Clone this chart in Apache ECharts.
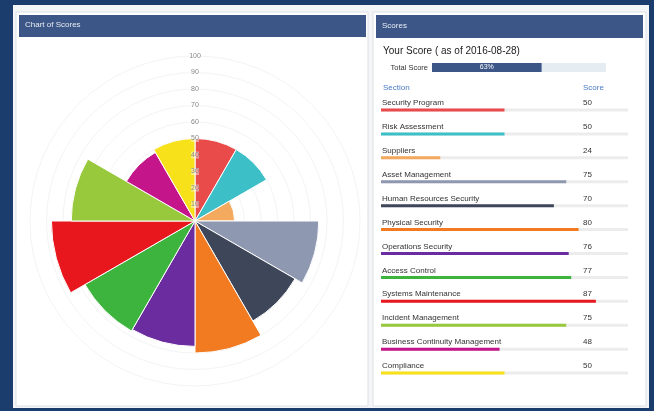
<!DOCTYPE html>
<html>
<head>
<meta charset="utf-8">
<title>Scores</title>
<script src="https://cdn.jsdelivr.net/npm/echarts@6/dist/echarts.min.js"></script>
<style>
  html, body { margin: 0; padding: 0; background: #1b3d6d; }
  #chart { width: 654px; height: 411px; }
</style>
</head>
<body>
<div id="chart"></div>
<script>
// data
var sections = ['Security Program', 'Risk Assessment', 'Suppliers', 'Asset Management',
  'Human Resources Security', 'Physical Security', 'Operations Security', 'Access Control',
  'Systems Maintenance', 'Incident Management', 'Business Continuity Management', 'Compliance']
var scores = [50, 50, 24, 75, 70, 80, 76, 77, 87, 75, 48, 50]
var colors = ['#e94b4b', '#3cbfc6', '#f4aa5e', '#8e98b0', '#3e4659', '#f27b21',
  '#6b2c9f', '#3db43d', '#e8171d', '#98c93c', '#c4168a', '#f7e11a']
var radiusMax = 100
var radiusStep = 10
var totalScore = 63
var asOfDate = '2016-08-28'

var headerColor = '#3b5687'
var font = 'Liberation Sans, Arial, sans-serif'

var chart = echarts.init(document.getElementById('chart'))

// hidden angle axis shared by both polar layers
function angleAxis(index) {
  return {
    polarIndex: index,
    type: 'category',
    data: sections,
    startAngle: 90,
    clockwise: true,
    axisLine: { show: false },
    axisTick: { show: false },
    axisLabel: { show: false },
    splitLine: { show: false }
  }
}

chart.setOption({
  animation: false,
  textStyle: { fontFamily: font },
  graphic: [
    { type: 'rect', shape: { x: 13, y: 5, width: 636, height: 403 }, style: { fill: '#f4f5f7' }, z: -10 },
    // left panel
    { type: 'rect', shape: { x: 16, y: 12, width: 352, height: 394 }, style: { fill: '#fff', stroke: '#dcdfe4' }, z: -9 },
    { type: 'rect', shape: { x: 19, y: 15, width: 347, height: 22 }, style: { fill: headerColor }, z: -8 },
    { type: 'text', left: 25, top: 21, style: { text: 'Chart of Scores', fill: '#e8edf5', fontSize: 8, fontFamily: font }, z: -7 },
    // right panel
    { type: 'rect', shape: { x: 373, y: 12, width: 273, height: 394 }, style: { fill: '#fff', stroke: '#dcdfe4' }, z: -9 },
    { type: 'rect', shape: { x: 376, y: 15, width: 267, height: 23 }, style: { fill: headerColor }, z: -8 },
    { type: 'text', left: 382, top: 22, style: { text: 'Scores', fill: '#e8edf5', fontSize: 8, fontFamily: font }, z: -7 },
    { type: 'text', left: 383, top: 46, style: { text: 'Your Score ( as of ' + asOfDate + ')', fill: '#222', fontSize: 10, fontFamily: font } },
    { type: 'text', left: 383, top: 84, style: { text: 'Section', fill: '#4a7bc4', fontSize: 8, fontFamily: font } },
    { type: 'text', left: 583, top: 84, style: { text: 'Score', fill: '#4a7bc4', fontSize: 8, fontFamily: font } }
  ],
  polar: [
    { center: [195, 221], radius: [0, 165] },
    { center: [195, 221], radius: [0, 165] }
  ],
  angleAxis: [angleAxis(0), angleAxis(1)],
  radiusAxis: [
    {
      // grid circles under the bars
      polarIndex: 0,
      min: 0,
      max: radiusMax,
      interval: radiusStep,
      axisLine: { show: false },
      axisTick: { show: false },
      axisLabel: { show: false },
      splitLine: { lineStyle: { color: '#f3f4f6' } }
    },
    {
      // tick labels drawn over the bars
      polarIndex: 1,
      min: 0,
      max: radiusMax,
      interval: radiusStep,
      z: 10,
      axisLine: { show: false },
      axisTick: { show: false },
      splitLine: { show: false },
      axisLabel: {
        showMinLabel: false,
        align: 'center',
        margin: 0,
        fontSize: 7,
        color: '#888',
        backgroundColor: 'rgba(255,255,255,0.45)'
      }
    }
  ],
  grid: [
    { left: 432, top: 63, width: 174, height: 9 },
    { left: 381, top: 98, width: 247, height: 287 }
  ],
  xAxis: [
    { gridIndex: 0, type: 'value', min: 0, max: 100, show: false },
    { gridIndex: 1, type: 'value', min: 0, max: 100, show: false }
  ],
  yAxis: [
    {
      gridIndex: 0,
      type: 'category',
      data: ['Total Score'],
      axisLine: { show: false },
      axisTick: { show: false },
      axisLabel: { margin: 4, fontSize: 7.5, color: '#333' }
    },
    {
      gridIndex: 1,
      type: 'category',
      data: sections,
      inverse: true,
      axisLine: { show: false },
      axisTick: { show: false },
      axisLabel: {
        inside: true,
        align: 'left',
        verticalAlign: 'bottom',
        margin: 1,
        padding: [0, 0, 3, 0],
        fontSize: 8,
        color: '#333'
      }
    },
    {
      gridIndex: 1,
      type: 'category',
      data: sections,
      inverse: true,
      position: 'right',
      axisLine: { show: false },
      axisTick: { show: false },
      axisLabel: {
        inside: true,
        align: 'left',
        verticalAlign: 'bottom',
        margin: 45,
        padding: [0, 0, 3, 0],
        fontSize: 8,
        color: '#333',
        formatter: function (v, i) {
          return scores[i]
        }
      }
    }
  ],
  series: [
    {
      name: 'Scores',
      type: 'bar',
      coordinateSystem: 'polar',
      polarIndex: 0,
      barCategoryGap: '0%',
      itemStyle: { borderColor: '#fff', borderWidth: 1 },
      data: scores.map(function (v, i) {
        return { value: v, itemStyle: { color: colors[i] } }
      })
    },
    {
      name: 'Total',
      type: 'bar',
      xAxisIndex: 0,
      yAxisIndex: 0,
      barWidth: 9,
      showBackground: true,
      backgroundStyle: { color: '#e5ecf2' },
      itemStyle: { color: headerColor },
      label: { show: true, position: 'inside', formatter: '{c}%', color: '#fff', fontSize: 7 },
      data: [totalScore]
    },
    {
      name: 'Section',
      type: 'bar',
      xAxisIndex: 1,
      yAxisIndex: 1,
      barWidth: 3,
      showBackground: true,
      backgroundStyle: { color: '#ececec' },
      data: scores.map(function (v, i) {
        return { value: v, itemStyle: { color: colors[i] } }
      })
    }
  ]
})
</script>
</body>
</html>
